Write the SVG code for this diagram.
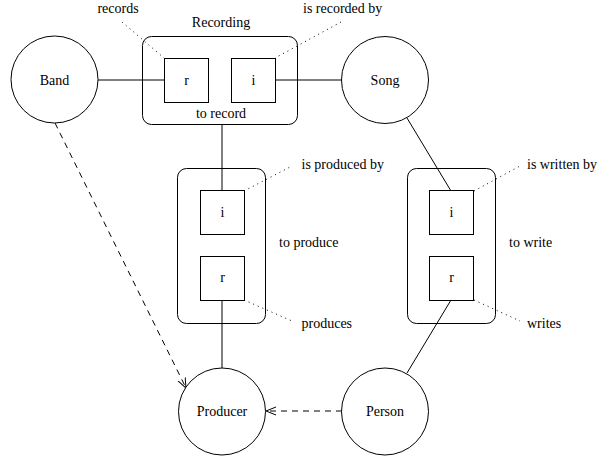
<svg xmlns="http://www.w3.org/2000/svg" width="603" height="459" viewBox="0 0 603 459" font-family="'Liberation Serif', 'DejaVu Serif', serif" font-size="14">
  <style>
    text { font-family: 'Liberation Serif', 'DejaVu Serif', serif; font-size: 14px; fill: #000; }
    .c { text-anchor: middle; }
    .shape { fill: #fff; stroke: #000; stroke-width: 1; }
    .line { fill: none; stroke: #000; stroke-width: 1; }
    .dash { fill: none; stroke: #000; stroke-width: 1; stroke-dasharray: 6,5; }
    .dot { fill: none; stroke: #000; stroke-width: 1; stroke-dasharray: 1,4; }
  </style>
  <defs>
    <marker id="open" viewBox="0 0 10 10" refX="10" refY="5" markerWidth="10" markerHeight="10" markerUnits="userSpaceOnUse" orient="auto">
      <path d="M0,1 L10,5 L0,9" fill="none" stroke="#000" stroke-width="1"/>
    </marker>
  </defs>

  <!-- connectors -->
  <g id="connectors">
    <line class="line" x1="98" y1="80" x2="164" y2="80"/>
    <line class="line" x1="275" y1="80" x2="342" y2="80"/>
    <line class="line" x1="222" y1="124" x2="222" y2="191"/>
    <line class="line" x1="222" y1="300" x2="222" y2="368"/>
    <line class="line" x1="407" y1="118" x2="451" y2="191"/>
    <line class="line" x1="451" y1="300" x2="407" y2="373"/>
    <line class="dash" x1="55" y1="123" x2="186" y2="388" marker-end="url(#open)"/>
    <line class="dash" x1="342" y1="411" x2="266" y2="411" marker-end="url(#open)"/>
    <!-- role annotations -->
    <line class="dot" x1="122" y1="22" x2="164" y2="58"/>
    <line class="dot" x1="341" y1="22" x2="275" y2="58"/>
    <line class="dot" x1="244" y1="191" x2="292" y2="166"/>
    <line class="dot" x1="244" y1="300" x2="292" y2="321"/>
    <line class="dot" x1="474" y1="191" x2="520" y2="166"/>
    <line class="dot" x1="474" y1="300" x2="520" y2="321"/>
  </g>

  <g id="band">
    <circle class="shape" cx="54.5" cy="79.5" r="43.5"/>
    <text class="c" x="54.5" y="84.5">Band</text>
  </g>

  <g id="song">
    <circle class="shape" cx="385" cy="80" r="43.5"/>
    <text class="c" x="385" y="84.5">Song</text>
  </g>

  <g id="producer">
    <circle class="shape" cx="222" cy="411.5" r="43.5"/>
    <text class="c" x="222" y="416">Producer</text>
  </g>

  <g id="person">
    <circle class="shape" cx="385" cy="411.5" r="43.5"/>
    <text class="c" x="385" y="416">Person</text>
  </g>

  <g id="recording">
    <rect class="line" x="142.5" y="36.5" width="155" height="88" rx="9"/>
    <rect class="shape" x="164.5" y="58.5" width="44" height="44"/>
    <text class="c" x="186.5" y="84.5">r</text>
    <rect class="shape" x="231.5" y="58.5" width="44" height="44"/>
    <text class="c" x="253.5" y="84.5">i</text>
    <text class="c" x="221" y="27">Recording</text>
    <text class="c" x="221" y="118">to record</text>
    <text class="c" x="118" y="13">records</text>
    <text x="303" y="13">is recorded by</text>
  </g>

  <g id="produce">
    <rect class="line" x="177.5" y="168.5" width="88" height="155" rx="9"/>
    <rect class="shape" x="200.5" y="190.5" width="44" height="44"/>
    <text class="c" x="222.5" y="217">i</text>
    <rect class="shape" x="200.5" y="256.5" width="44" height="44"/>
    <text class="c" x="222.5" y="282">r</text>
    <text x="279" y="247">to produce</text>
    <text x="301.5" y="169">is produced by</text>
    <text x="301.5" y="328">produces</text>
  </g>

  <g id="write">
    <rect class="line" x="407.5" y="168.5" width="88" height="155" rx="9"/>
    <rect class="shape" x="429.5" y="190.5" width="44" height="44"/>
    <text class="c" x="451.5" y="217">i</text>
    <rect class="shape" x="429.5" y="256.5" width="44" height="44"/>
    <text class="c" x="451.5" y="282">r</text>
    <text x="509" y="247">to write</text>
    <text x="527" y="169">is written by</text>
    <text x="527" y="328">writes</text>
  </g>
</svg>
